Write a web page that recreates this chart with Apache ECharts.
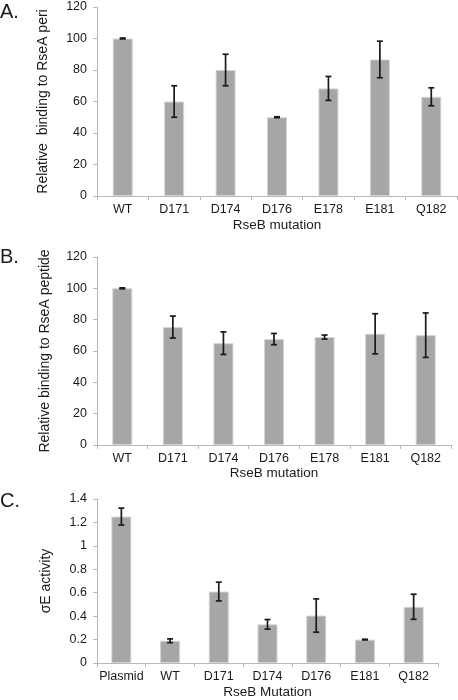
<!DOCTYPE html>
<html>
<head>
<meta charset="utf-8">
<script src="https://cdn.jsdelivr.net/npm/echarts@6/dist/echarts.min.js"></script>
<style>html,body{margin:0;padding:0;background:#fff;}#c{width:458px;height:700px;}</style>
</head>
<body>
<div id="c"></div>
<script>
var catsAB = ['WT', 'D171', 'D174', 'D176', 'E178', 'E181', 'Q182'];
var valuesA = [100, 60, 80, 50, 68.3, 86.7, 63];
var errA = [0.3, 10, 10, 0.3, 7.6, 11.6, 5.7];
var valuesB = [100, 75.3, 65, 67.6, 68.9, 71, 70.1];
var errB = [0.3, 7, 7.2, 3.6, 1.3, 12.8, 14.2];
var catsC = ['Plasmid', 'WT', 'D171', 'D174', 'D176', 'E181', 'Q182'];
var valuesC = [1.25, 0.19, 0.61, 0.33, 0.405, 0.2, 0.48];
var errC = [0.072, 0.016, 0.08, 0.041, 0.142, 0.003, 0.107];

var FONT = '"Liberation Sans", Arial, sans-serif';
var TXT = '#1a1a1a';
var AX = '#b8b8b8';

function errData(vals, errs) {
  return vals.map(function (v, i) { return [i, v - errs[i], v + errs[i]]; });
}
function renderErr(params, api) {
  var lo = api.coord([api.value(0), api.value(1)]);
  var hi = api.coord([api.value(0), api.value(2)]);
  var w = 3;
  var st = { stroke: '#1a1a1a', lineWidth: 1.7 };
  return {
    type: 'group',
    children: [
      { type: 'line', shape: { x1: lo[0], y1: lo[1], x2: hi[0], y2: hi[1] }, style: st },
      { type: 'line', shape: { x1: lo[0] - w, y1: lo[1], x2: lo[0] + w, y2: lo[1] }, style: st },
      { type: 'line', shape: { x1: hi[0] - w, y1: hi[1], x2: hi[0] + w, y2: hi[1] }, style: st }
    ]
  };
}
function xAx(idx, cats, name, gap) {
  return {
    type: 'category', gridIndex: idx, data: cats,
    name: name, nameLocation: 'middle', nameGap: gap,
    nameTextStyle: { color: TXT, fontSize: 13.5, fontFamily: FONT },
    axisLine: { lineStyle: { color: AX, width: 1 } },
    axisTick: { show: true, length: 4, lineStyle: { color: AX } },
    axisLabel: { color: TXT, fontSize: 12.5, fontFamily: FONT, margin: 7, interval: 0 }
  };
}
function yAx(idx, max, interval, name, gap) {
  return {
    type: 'value', gridIndex: idx, min: 0, max: max, interval: interval,
    name: name, nameLocation: 'middle', nameGap: gap,
    nameTextStyle: { color: TXT, fontSize: 14, fontFamily: FONT },
    axisLine: { show: true, lineStyle: { color: AX, width: 1 } },
    axisTick: { show: true, length: 4, lineStyle: { color: AX } },
    splitLine: { show: false },
    axisLabel: { color: TXT, fontSize: 12.5, fontFamily: FONT, margin: 10 }
  };
}
function barS(idx, vals) {
  return {
    type: 'bar', xAxisIndex: idx, yAxisIndex: idx, data: vals, barWidth: 20,
    itemStyle: { color: '#a6a6a6', borderColor: '#d4d4d4', borderWidth: 1 },
    animation: false, silent: true
  };
}
function errS(idx, vals, errs) {
  return {
    type: 'custom', xAxisIndex: idx, yAxisIndex: idx, data: errData(vals, errs),
    encode: { x: 0, y: [1, 2] }, renderItem: renderErr, z: 10, animation: false, silent: true
  };
}

var chart = echarts.init(document.getElementById('c'), null, { renderer: 'canvas' });
chart.setOption({
  animation: false,
  backgroundColor: '#fff',
  title: [
    { text: 'A.', left: 0, top: 2, textStyle: { fontSize: 20, fontWeight: 'normal', color: TXT, fontFamily: FONT }, padding: 0 },
    { text: 'B.', left: 0, top: 247, textStyle: { fontSize: 20, fontWeight: 'normal', color: TXT, fontFamily: FONT }, padding: 0 },
    { text: 'C.', left: 0, top: 491, textStyle: { fontSize: 20, fontWeight: 'normal', color: TXT, fontFamily: FONT }, padding: 0 }
  ],
  grid: [
    { left: 97, right: 1, top: 7, height: 189 },
    { left: 97, right: 7, top: 257, height: 188 },
    { left: 97, right: 20, top: 499, height: 168 }
  ],
  xAxis: [
    xAx(0, catsAB, 'RseB mutation', 22),
    xAx(1, catsAB, 'RseB mutation', 19),
    xAx(2, catsC, 'RseB Mutation', 22)
  ],
  yAxis: [
    yAx(0, 120, 20, 'Relative  binding to RseA peri', 47),
    yAx(1, 120, 20, 'Relative binding to RseA peptide', 45),
    yAx(2, 1.4, 0.2, 'σE activity', 44)
  ],
  series: [
    barS(0, valuesA), errS(0, valuesA, errA),
    barS(1, valuesB), errS(1, valuesB, errB),
    barS(2, valuesC), errS(2, valuesC, errC)
  ]
});
</script>
</body>
</html>
